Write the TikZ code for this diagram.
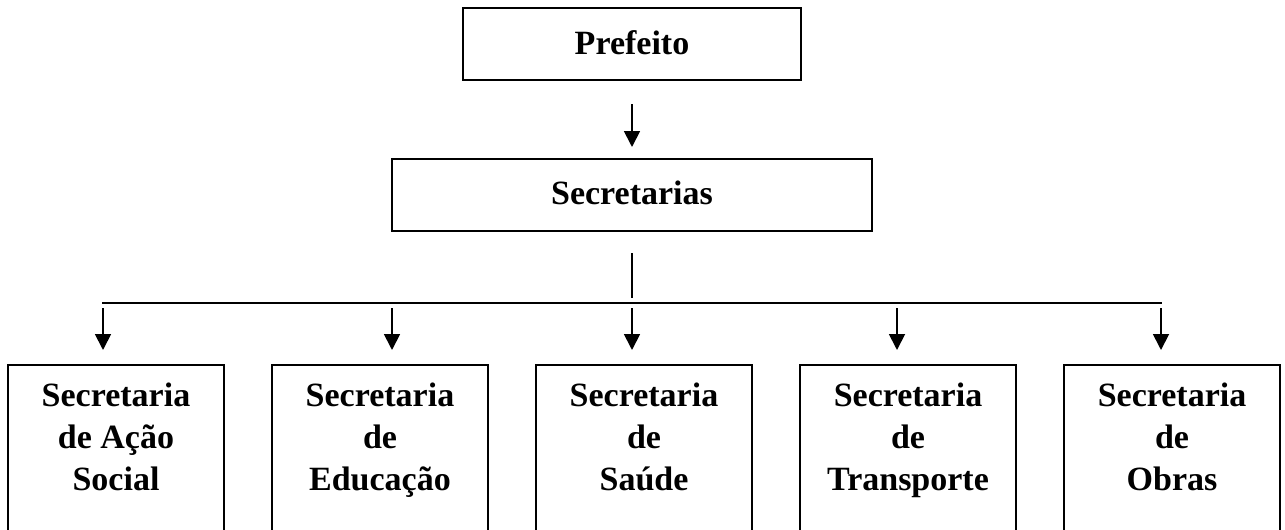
\documentclass[tikz,border=0pt]{standalone}
\usepackage{fontspec}
\setmainfont{Liberation Serif}
\usetikzlibrary{arrows.meta}
\tikzset{
  box/.style={draw, line width=2.3pt, inner sep=0pt},
  toptext/.style={font=\bfseries\fontsize{34}{34}\selectfont, inner sep=0pt, anchor=base},
  subtext/.style={font=\bfseries\fontsize{34}{42}\selectfont, inner sep=0pt, anchor=north, align=center},
  conn/.style={line width=1.8pt},
  arr/.style={line width=1.8pt, -{Triangle[width=16pt,length=16pt]}},
}
\begin{document}
\begin{tikzpicture}[x=1pt,y=-1pt]
\useasboundingbox (0,0) rectangle (1285,530);
\clip (0,0) rectangle (1285,530);
\fill[white] (0,0) rectangle (1285,530);
% top boxes
\node[box, minimum width=338pt, minimum height=72pt] (pref) at (632,44) {};
\node[toptext] (preft) at (632,54) {Prefeito};
\node[box, minimum width=480pt, minimum height=72pt] (sec) at (632,195) {};
\node[toptext] (sect) at (632,204) {Secretarias};
% bottom boxes (extend below the page edge)
\foreach \n/\cx in {1/116,2/380,3/644,4/908,5/1172}{
  \node[box, minimum width=216pt, minimum height=220pt, anchor=north] (s\n) at (\cx,364) {};
}
\node[subtext] (t1) at (116,383) {Secretaria\\de Ação\\Social};
\node[subtext] (t2) at (380,383) {Secretaria\\de\\Educação};
\node[subtext] (t3) at (644,383) {Secretaria\\de\\Saúde};
\node[subtext] (t4) at (908,383) {Secretaria\\de\\Transporte};
\node[subtext] (t5) at (1172,383) {Secretaria\\de\\Obras};
% connectors
\coordinate (a0) at (632,104);
\coordinate (a0e) at (632,147);
\draw[arr] (a0) -- (a0e);
\coordinate (v0) at (632,253);
\coordinate (v1) at (632,298);
\draw[conn] (v0) -- (v1);
\coordinate (hl) at (102,303);
\coordinate (hr) at (1162,303);
\draw[conn] (hl) -- (hr);
\foreach \n/\ax in {1/103,2/392,3/632,4/897,5/1161}{
  \coordinate (b\n) at (\ax,308);
  \coordinate (e\n) at (\ax,350);
  \draw[arr] (b\n) -- (e\n);
}
\end{tikzpicture}
\end{document}
